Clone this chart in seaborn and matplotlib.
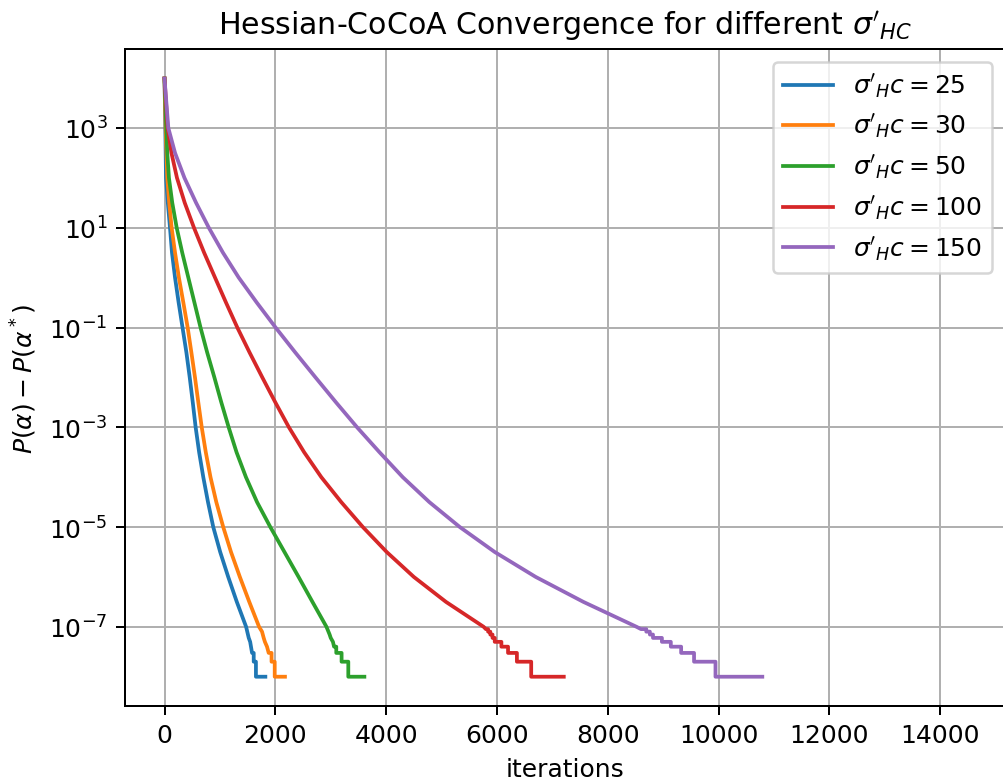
import numpy as np
import pandas as pd
import matplotlib
matplotlib.use("Agg")
import matplotlib.pyplot as plt
import seaborn as sns
from matplotlib.ticker import NullLocator

# ---------------- data ----------------
labels = [r"$\sigma'_Hc = 25$", r"$\sigma'_Hc = 30$", r"$\sigma'_Hc = 50$",
          r"$\sigma'_Hc = 100$", r"$\sigma'_Hc = 150$"]

# smooth part: value read at every half decade, then the quantised tail
iters_25 = [0, 15, 27, 60, 99, 135, 190, 255, 325, 395, 455, 510, 562, 625, 700, 785, 880,
            1005, 1150, 1305, 1473,
            1520, 1546, 1580, 1610, 1610, 1650, 1650, 1820]
gap_25 = [9.8e3, 1e3, 1e2, 10**1.5, 1e1, 10**0.5, 1e0, 10**-0.5, 1e-1, 10**-1.5, 1e-2,
          10**-2.5, 1e-3, 10**-3.5, 1e-4, 10**-4.5, 1e-5, 10**-5.5, 1e-6, 10**-6.5, 1e-7,
          6e-8, 5e-8, 3e-8, 3e-8, 2e-8, 2e-8, 1e-8, 1e-8]

iters_30 = [0, 20, 50, 85, 129, 190, 260, 340, 418, 485, 550, 610, 672, 745, 830, 935, 1060,
            1200, 1360, 1530, 1707,
            1760, 1790, 1812, 1850, 1880, 1932, 1932, 1989, 1989, 2174]
gap_30 = [9.8e3, 1e3, 1e2, 10**1.5, 1e1, 10**0.5, 1e0, 10**-0.5, 1e-1, 10**-1.5, 1e-2,
          10**-2.5, 1e-3, 10**-3.5, 1e-4, 10**-4.5, 1e-5, 10**-5.5, 1e-6, 10**-6.5, 1e-7,
          8e-8, 6e-8, 5e-8, 4e-8, 3e-8, 3e-8, 2e-8, 2e-8, 1e-8, 1e-8]

iters_50 = [0, 32, 50, 80, 140, 220, 320, 430, 540, 650, 770, 900, 1025, 1158, 1300, 1470,
            1670, 1910, 2165, 2420, 2670, 2923,
            2980, 3000, 3040, 3060, 3100, 3100, 3196, 3196, 3317, 3317, 3607]
gap_50 = [9.8e3, 1e3, 10**2.5, 1e2, 10**1.5, 1e1, 10**0.5, 1e0, 10**-0.5, 1e-1, 10**-1.5,
          1e-2, 10**-2.5, 1e-3, 10**-3.5, 1e-4, 10**-4.5, 1e-5, 10**-5.5, 1e-6, 10**-6.5, 1e-7,
          7e-8, 6e-8, 5e-8, 4e-8, 4e-8, 3e-8, 3e-8, 2e-8, 2e-8, 1e-8, 1e-8]

iters_100 = [0, 57, 125, 225, 365, 532, 715, 912, 1110, 1314, 1535, 1765, 2000, 2245, 2520,
             2830, 3190, 3580, 4010, 4500, 5080, 5760,
             5800, 5840, 5840, 5880, 5880, 5920, 5920, 5960, 5960, 6080, 6080, 6200, 6200,
             6360, 6360, 6618, 6618, 7206]
gap_100 = [9.8e3, 1e3, 10**2.5, 1e2, 10**1.5, 1e1, 10**0.5, 1e0, 10**-0.5, 1e-1, 10**-1.5,
           1e-2, 10**-2.5, 1e-3, 10**-3.5, 1e-4, 10**-4.5, 1e-5, 10**-5.5, 1e-6, 10**-6.5, 1e-7,
           9e-8, 9e-8, 8e-8, 8e-8, 7e-8, 7e-8, 6e-8, 6e-8, 5e-8, 5e-8, 4e-8, 4e-8, 3e-8,
           3e-8, 2e-8, 2e-8, 1e-8, 1e-8]

iters_150 = [0, 69, 190, 360, 570, 800, 1055, 1340, 1665, 2005, 2360, 2725, 3095, 3475, 3880,
             4300, 4780, 5330, 5960, 6700, 7560, 8520,
             8600, 8695, 8695, 8760, 8760, 8816, 8816, 8977, 8977, 9138, 9138, 9324, 9324,
             9557, 9557, 9944, 9944, 10789]
gap_150 = [9.8e3, 1e3, 10**2.5, 1e2, 10**1.5, 1e1, 10**0.5, 1e0, 10**-0.5, 1e-1, 10**-1.5,
           1e-2, 10**-2.5, 1e-3, 10**-3.5, 1e-4, 10**-4.5, 1e-5, 10**-5.5, 1e-6, 10**-6.5, 1e-7,
           9e-8, 9e-8, 8e-8, 8e-8, 7e-8, 7e-8, 6e-8, 6e-8, 5e-8, 5e-8, 4e-8, 4e-8, 3e-8,
           3e-8, 2e-8, 2e-8, 1e-8, 1e-8]

xticks = [0, 2000, 4000, 6000, 8000, 10000, 12000, 14000]
yticks = [1e-7, 1e-5, 1e-3, 1e-1, 1e1, 1e3]

# ---------------- build long table ----------------
frames = []
for lab, it, gp in zip(labels,
                       [iters_25, iters_30, iters_50, iters_100, iters_150],
                       [gap_25, gap_30, gap_50, gap_100, gap_150]):
    frames.append(pd.DataFrame({"iterations": it, "gap": gp, "series": lab}))
df = pd.concat(frames, ignore_index=True)

# ---------------- plot ----------------
DPI = 180
W, H = 1003, 783
fig = plt.figure(figsize=(W / DPI, H / DPI), dpi=DPI)
ax = fig.add_axes([125 / W, 76 / H, 879.5 / W, 657 / H])

palette = sns.color_palette("tab10", 5)
sns.lineplot(data=df, x="iterations", y="gap", hue="series", hue_order=labels,
             palette=palette, estimator=None, sort=False, linewidth=1.5, ax=ax)

ax.set_yscale("log")
ax.set_ylim(10 ** -8.587, 10 ** 4.583)
ax.set_xlim(-713, 15160)
ax.set_yticks(yticks)
ax.yaxis.set_minor_locator(NullLocator())
ax.set_xticks(xticks)
ax.grid(True, color="#b0b0b0", linewidth=0.8)

handles, labs = ax.get_legend_handles_labels()
ax.legend(handles, labs, loc="upper right")

ax.set_title(r"Hessian-CoCoA Convergence for different $\sigma'_{HC}$", fontsize=12)
ax.set_xlabel("iterations")
ax.set_ylabel(r"$P(\alpha) - P(\alpha^*)$")

fig.savefig("out.png", dpi=DPI)
